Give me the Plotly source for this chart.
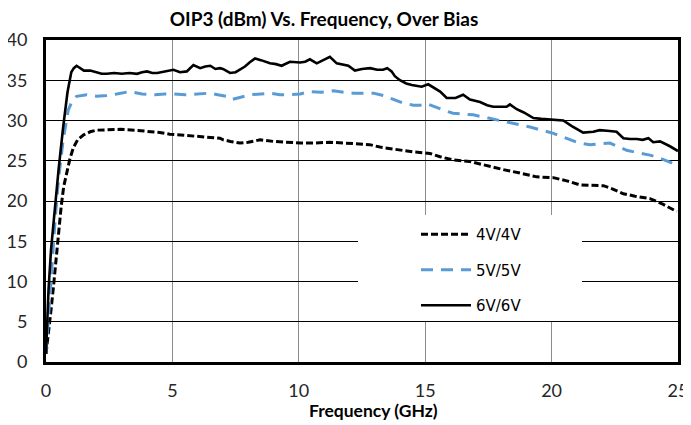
import plotly.graph_objects as go

# OIP3 vs frequency, three bias points
freq_4v = [0, 0.1, 0.2, 0.3, 0.4, 0.5, 0.6, 0.7, 0.82, 0.95, 1.08, 1.25, 1.48, 1.75, 2.0, 2.5, 2.93,
           3.5, 3.98, 4.5, 4.9, 5.4, 5.96, 6.5, 6.88, 7.01, 7.3, 7.67, 8.0, 8.47, 9.0, 9.5, 10.05,
           10.6, 11.23, 11.8, 12.42, 12.8, 13.21, 13.6, 14.0, 14.5, 14.92, 15.19, 15.59, 16.1,
           16.77, 17.4, 18.09, 18.7, 19.41, 20.07, 20.6, 21.12, 21.6, 22.05, 22.4, 22.84, 23.3,
           23.89, 24.4, 24.95]
oip3_4v = [1, 3.5, 6.5, 9.5, 13, 16, 19.3, 21.8, 23.6, 25.3, 26.6, 27.6, 28.2, 28.6, 28.8, 28.9, 28.9,
           28.8, 28.7, 28.5, 28.3, 28.2, 28.1, 27.9, 27.8, 27.6, 27.4, 27.2, 27.3, 27.6, 27.4, 27.3, 27.2,
           27.2, 27.3, 27.2, 27.1, 27.0, 26.7, 26.5, 26.3, 26.1, 26.0, 25.9, 25.5, 25.1,
           24.9, 24.4, 23.9, 23.5, 23.0, 22.9, 22.5, 22.0, 21.9, 21.9, 21.5, 20.9, 20.6,
           20.3, 19.6, 18.7]

freq_5v = [0, 0.1, 0.2, 0.36, 0.49, 0.68, 0.88, 1.05, 1.21, 1.61, 2.0, 2.4, 2.8, 3.32, 3.8, 4.3, 4.7,
           5.04, 5.5, 6.0, 6.49, 6.8, 7.15, 7.34, 7.7, 8.07, 8.5, 8.86, 9.25, 9.65, 10.05, 10.44,
           10.9, 11.37, 11.8, 12.16, 12.55, 12.95, 13.35, 13.74, 14.1, 14.53, 14.8, 15.06, 15.52,
           15.8, 16.1, 16.5, 16.9, 17.5, 18.09, 18.6, 19.15, 19.6, 20.07, 20.4, 20.73, 21.1, 21.52,
           21.9, 22.31, 22.6, 22.97, 23.4, 23.89, 24.3, 24.7, 25.0]
oip3_5v = [1, 6, 11, 17.6, 22.6, 27.6, 31.3, 32.5, 33.0, 33.2, 33.0, 33.1, 33.3, 33.6, 33.3, 33.2, 33.3,
           33.3, 33.2, 33.3, 33.4, 33.2, 33.0, 32.6, 32.9, 33.2, 33.3, 33.4, 33.2, 33.2, 33.3, 33.6,
           33.5, 33.7, 33.5, 33.4, 33.4, 33.4, 33.1, 32.6, 32.2, 31.9, 31.9, 32.1, 31.5,
           31.2, 30.9, 30.8, 30.7, 30.3, 29.9, 29.6, 29.2, 28.8, 28.4, 28.0, 27.6, 27.2, 27.0,
           27.1, 27.2, 26.8, 26.3, 26.0, 25.7, 25.3, 24.8, 24.3]

freq_6v = [0, 0.05, 0.1, 0.2, 0.35, 0.5, 0.68, 0.85, 1.0, 1.1, 1.21, 1.35, 1.5, 1.75, 2.0, 2.2, 2.4,
           2.7, 3.0, 3.3, 3.6, 3.8, 4.0, 4.2, 4.4, 4.7, 5.04, 5.3, 5.57, 5.83, 6.1, 6.3, 6.5, 6.7,
           6.88, 7.0, 7.28, 7.5, 7.87, 8.05, 8.27, 8.5, 8.86, 9.1, 9.32, 9.65, 10.05, 10.25, 10.44,
           10.71, 10.95, 11.23, 11.5, 11.96, 12.22, 12.5, 12.82, 13.1, 13.33, 13.5, 13.67, 13.8,
           14.0, 14.25, 14.47, 14.86, 15.12, 15.35, 15.59, 15.85, 16.2, 16.5, 16.77, 17.17, 17.45,
           17.69, 18.0, 18.22, 18.35, 18.62, 18.9, 19.28, 19.6, 20.07, 20.46, 20.8, 21.25, 21.65,
           21.9, 22.3, 22.57, 22.84, 23.1, 23.37, 23.6, 23.83, 24.02, 24.29, 24.5, 24.68, 25.0]
oip3_6v = [1, 5, 9, 14, 19.3, 24, 29.2, 33.5, 36.0, 36.5, 36.8, 36.5, 36.2, 36.2, 36.0, 35.8, 35.8,
           35.9, 35.8, 35.9, 35.8, 36.0, 36.1, 35.9, 35.9, 36.1, 36.3, 36.0, 36.1, 36.9, 36.5, 36.7,
           36.8, 36.4, 36.5, 36.4, 35.9, 36.0, 36.7, 37.2, 37.7, 37.5, 37.1, 37.0, 36.8, 37.3, 37.2,
           37.3, 37.6, 37.1, 37.5, 37.9, 37.1, 36.8, 36.2, 36.4, 36.5, 36.3, 36.3, 36.5, 36.1, 35.5,
           35.0, 34.6, 34.4, 34.2, 34.5, 34.1, 33.6, 32.8, 32.8, 33.2, 32.6, 32.3, 31.9,
           31.7, 31.7, 31.7, 32.0, 31.4, 31.0, 30.3, 30.2, 30.1, 30.0, 29.3, 28.5, 28.6,
           28.8, 28.7, 28.6, 27.8, 27.7, 27.7, 27.6, 27.8, 27.3, 27.4, 27.1, 26.8, 26.2]

x_ticks = [0, 5, 10, 15, 20, 25]
y_ticks = [0, 5, 10, 15, 20, 25, 30, 35, 40]

fig = go.Figure()
fig.add_trace(go.Scatter(x=freq_4v, y=oip3_4v, name="4V/4V", mode="lines", legendgroup="a",
                         line=dict(color="black", width=3, dash="7px,3px")))
fig.add_trace(go.Scatter(x=freq_5v, y=oip3_5v, name="5V/5V", mode="lines", legendgroup="b",
                         line=dict(color="#5b9bd5", width=3, dash="12px,8px")))
fig.add_trace(go.Scatter(x=freq_6v, y=oip3_6v, name="6V/6V", mode="lines", legendgroup="c",
                         line=dict(color="black", width=2.6)))

# white box behind the legend hides the gridlines there
fig.add_shape(type="rect", xref="paper", yref="paper",
              x0=(358 - 46) / 632, x1=(582 - 46) / 632,
              y0=(362 - 321) / 322, y1=(362 - 215) / 322,
              fillcolor="white", line_width=0, layer="above")

# x axis title sits a little right of centre in the original
fig.add_annotation(text="<b>Frequency (GHz)</b>", xref="paper", yref="paper",
                   x=(373 - 46) / 632, y=(362 - 410) / 322, xanchor="center", yanchor="middle",
                   showarrow=False, font=dict(family="Lato", size=17.5, color="black"))

# page body has an 8px margin, so the figure is 8px smaller and margins shifted
fig.update_layout(
    width=683, height=417,
    margin=dict(l=38, r=13, t=32, b=63),
    paper_bgcolor="white", plot_bgcolor="white",
    font=dict(family="Lato", size=18, color="#262626"),
    title=dict(text="<b>OIP3 (dBm) Vs. Frequency, Over Bias</b>", x=316 / 683, xanchor="center",
               y=1 - 11 / 417, yanchor="middle", xref="container", yref="container",
               font=dict(family="Lato", size=19, color="black")),
    legend=dict(x=(416 - 46) / 632, y=(362 - 218) / 322, xanchor="left", yanchor="top",
                bgcolor="rgba(0,0,0,0)", font=dict(family="DejaVu Sans", size=15, color="black"),
                traceorder="grouped", tracegroupgap=13, itemwidth=50),
)
fig.update_xaxes(range=[0, 25], tickvals=x_ticks, showgrid=True, gridcolor="#8c8c8c", gridwidth=1,
                 showline=True, linecolor="black", linewidth=3, mirror=True, zeroline=False,
                 ticks="", ticklabelstandoff=10, automargin=False)
fig.update_yaxes(range=[0, 40], tickvals=y_ticks, showgrid=True, gridcolor="black", gridwidth=1,
                 showline=True, linecolor="black", linewidth=3, mirror=True, zeroline=False,
                 ticks="", ticklabelstandoff=12, automargin=False)

fig.write_html("out.html")
